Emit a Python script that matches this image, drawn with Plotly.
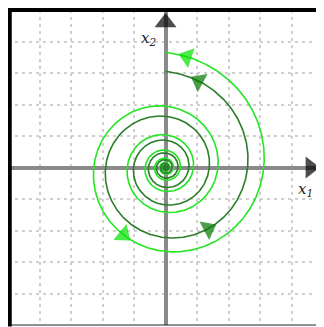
import numpy as np
import plotly.graph_objects as go

# ---- axes / grid ----
x_range = [-5, 5]
y_range = [-5, 5]
grid_step = 1
axis_labels = ["x<sub>1</sub>", "x<sub>2</sub>"]

# ---- phase-portrait parameters ----
# linear system x' = A x with A = [[a, -b], [b, a]], trajectories r = r_end * exp((a/b)(phi - phi_end))
growth_ratio = 0.10            # a / b
end_angle_deg = 450.0          # both trajectories end on the positive x2 axis
light_end_radius = 3.65
dark_end_radius = 3.05
inner_radius = 0.03
light_arrow_deg = [439.0, 238.0]
dark_arrow_deg = [429.0, 305.0]

light_line = "#22e622"
light_fill = "#00e000"
dark_line = "#2a7d2a"
dark_fill = "#007800"


def trajectory(r_end, phi_from, phi_to, n):
    phi = np.radians(np.linspace(phi_from, phi_to, n))
    r = r_end * np.exp(growth_ratio * (phi - np.radians(end_angle_deg)))
    return r * np.cos(phi), r * np.sin(phi)


def start_angle(r_end):
    return end_angle_deg + np.degrees(np.log(inner_radius / r_end) / growth_ratio)


fig = go.Figure()

for r_end, col in [(light_end_radius, light_line), (dark_end_radius, dark_line)]:
    x, y = trajectory(r_end, start_angle(r_end), end_angle_deg, 6000)
    fig.add_trace(go.Scatter(x=x, y=y, mode="lines", line=dict(color=col, width=1.6),
                             hoverinfo="skip", showlegend=False))

for r_end, angles, col in [(light_end_radius, light_arrow_deg, light_fill),
                           (dark_end_radius, dark_arrow_deg, dark_fill)]:
    for a in angles:
        x, y = trajectory(r_end, a - 3, a, 2)
        fig.add_trace(go.Scatter(x=x, y=y, mode="markers",
                                 marker=dict(symbol="triangle-up", size=[0, 18], color=col,
                                             angleref="previous", line=dict(width=0)),
                                 hoverinfo="skip", showlegend=False))

# axis arrowheads at the ends of the axes
fig.add_trace(go.Scatter(x=[x_range[1] - 0.6, x_range[1] - 0.4], y=[0, 0], mode="markers",
                         marker=dict(symbol="triangle-up", size=[0, 19], color="black",
                                     angleref="previous", line=dict(width=0)),
                         hoverinfo="skip", showlegend=False))
fig.add_trace(go.Scatter(x=[0, 0], y=[y_range[1] - 0.6, y_range[1] - 0.4], mode="markers",
                         marker=dict(symbol="triangle-up", size=[0, 19], color="black",
                                     angleref="previous", line=dict(width=0)),
                         hoverinfo="skip", showlegend=False))

fig.add_annotation(x=x_range[1] - 0.55, y=-0.7, text="<i>" + axis_labels[0] + "</i>",
                   showarrow=False, font=dict(family="DejaVu Serif", size=15, color="#222222"))
fig.add_annotation(x=-0.55, y=y_range[1] - 0.9, text="<i>" + axis_labels[1] + "</i>",
                   showarrow=False, font=dict(family="DejaVu Serif", size=15, color="#222222"))

axis_common = dict(dtick=grid_step, showticklabels=False, ticks="",
                   showgrid=True, gridcolor="#cfcfcf", gridwidth=1.5, griddash="3px,4px",
                   zeroline=True, zerolinecolor="#8a8a8a", zerolinewidth=4,
                   showline=False, fixedrange=True)

fig.update_xaxes(range=x_range, **axis_common)
fig.update_yaxes(range=y_range, **axis_common)

# frame: thin all round, thick on left and top
fig.add_shape(type="rect", xref="paper", yref="paper", x0=0, y0=0, x1=1, y1=1,
              line=dict(color="#222222", width=1))
fig.add_shape(type="line", xref="paper", yref="paper", x0=0.004, y0=-0.005, x1=0.004, y1=1.005,
              line=dict(color="black", width=5))
fig.add_shape(type="line", xref="paper", yref="paper", x0=0, y0=1, x1=1, y1=1,
              line=dict(color="black", width=4))

# the page body adds an 8px offset, so the figure is sized to the remaining window
fig.update_layout(width=316, height=319, margin=dict(l=0, r=1, t=2, b=2),
                  plot_bgcolor="white", paper_bgcolor="white", showlegend=False)

fig.write_html("out.html")
